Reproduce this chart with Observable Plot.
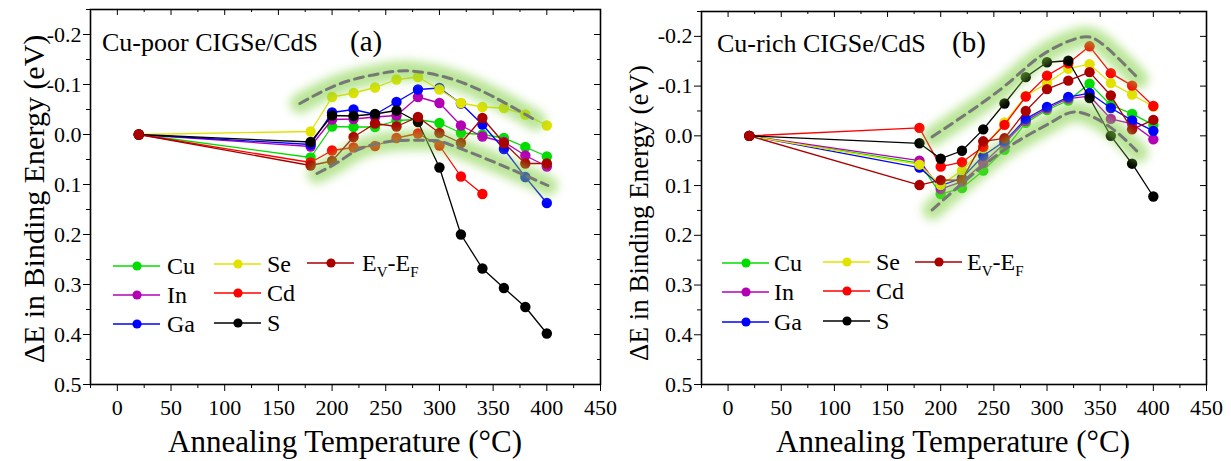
<!DOCTYPE html>
<html><head><meta charset="utf-8">
<script src="https://cdn.jsdelivr.net/npm/d3@7"></script>
<script src="https://cdn.jsdelivr.net/npm/@observablehq/plot@0.6"></script>
<style>
body{margin:0;background:#fff;}
#wrap{position:relative;width:1231px;height:461px;overflow:hidden;}
#wrap > svg{position:absolute;top:0;}
</style></head><body><div id="wrap"></div>
<script>
// ---------- data ----------
const temps = [20,180,200,220,240,260,280,300,320,340,360,380,400];
const seriesNames = ["Cu","In","Ga","Se","Cd","S","EvEf"];
const seriesColors = ["#00dd00","#b400b4","#0000ff","#e2e200","#ff0000","#000000","#aa0000"];

// Panel (a) Cu-poor
const aCu   = [0,0.046,-0.016,-0.015,-0.015,-0.028,-0.030,-0.023,-0.003,0.000,0.007,0.025,0.044];
const aIn   = [0,0.024,-0.030,-0.031,-0.035,-0.038,-0.075,-0.063,-0.018,0.004,0.015,0.042,0.064];
const aGa   = [0,0.020,-0.044,-0.050,-0.040,-0.065,-0.090,-0.093,-0.062,-0.020,0.029,0.085,0.137];
const aSe   = [0,-0.006,-0.075,-0.083,-0.094,-0.110,-0.115,-0.090,-0.063,-0.055,-0.053,-0.040,-0.018];
const aCd   = [0,0.056,0.032,0.026,0.023,0.007,-0.002,0.022,0.084,0.119,null,null,null];
const aS    = [0,0.015,-0.038,-0.037,-0.041,-0.048,-0.025,0.066,0.200,0.268,0.307,0.345,0.398];
const aEvEf = [0,0.062,0.053,0.005,-0.022,-0.016,-0.035,-0.003,0.017,-0.033,0.017,0.058,0.058];

// Panel (b) Cu-rich
const bCu   = [0,0.055,0.117,0.105,0.070,0.028,-0.026,-0.052,-0.071,-0.105,-0.062,-0.044,-0.022];
const bIn   = [0,0.050,0.107,0.092,0.055,0.015,-0.030,-0.055,-0.075,-0.080,-0.034,-0.024,0.007];
const bGa   = [0,0.064,0.100,0.085,0.040,0.011,-0.034,-0.058,-0.078,-0.086,-0.056,-0.031,-0.010];
const bSe   = [0,0.058,0.099,0.070,0.025,-0.027,-0.080,-0.106,-0.135,-0.144,-0.106,-0.083,-0.059];
const bCd   = [0,-0.016,0.062,0.053,0.022,-0.022,-0.079,-0.121,-0.146,-0.180,-0.126,-0.101,-0.060];
const bS    = [0,0.015,0.046,0.030,-0.013,-0.065,-0.118,-0.148,-0.151,-0.076,0.000,0.056,0.122];
const bEvEf = [0,0.099,0.089,0.089,0.011,0.005,-0.050,-0.094,-0.111,-0.128,-0.081,-0.013,-0.032];

// guide curves (dashed trend bands)
const aUpperT = [170,208,245,273,310,348,390];
const aUpperV = [-0.062,-0.102,-0.122,-0.127,-0.112,-0.078,-0.028];
const aLowerT = [186,208,229,264,292,307,354,401];
const aLowerV = [0.078,0.052,0.026,0.012,0.012,0.018,0.058,0.102];
const bUpperT = [192,256,293,328,350,375,386];
const bUpperV = [0.002,-0.093,-0.159,-0.196,-0.188,-0.139,-0.115];
const bLowerT = [192,256,303,328,359,386];
const bLowerV = [0.149,0.034,-0.026,-0.048,-0.018,0.034];

// axis ticks
const xMajor = [0,50,100,150,200,250,300,350,400,450];
const xMinor = [-25,25,75,125,175,225,275,325,375,425];
const yMajor = [-0.2,-0.1,0,0.1,0.2,0.3,0.4,0.5];
const yMinor = [-0.25,-0.15,-0.05,0.05,0.15,0.25,0.35,0.45];

const FONT = "'Liberation Serif','Times New Roman',serif";

function makePanel({series, guides, width, mL, mR, mT, mB, id}) {
  const H = 461;
  const frameW = width - mL - mR, frameH = H - mT - mB;
  const marks = [];
  seriesNames.forEach((s, i) => {
    const rows = [];
    series[i].forEach((v, j) => { if (v != null) rows.push({series: s, t: temps[j], v}); });
    marks.push(Plot.line(rows, {x: "t", y: "v", stroke: "series", strokeWidth: 1.3}));
    marks.push(Plot.dot(rows, {x: "t", y: "v", fill: "series", r: 5.2}));
  });
  const g = [];
  guides.forEach((gd, k) => gd.t.forEach((t, j) => g.push({g: k, t, v: gd.v[j]})));
  marks.push(Plot.line(g, {x: "t", y: "v", z: "g", curve: "natural", stroke: "#7fcf3f", strokeWidth: 20, strokeOpacity: 0.55, strokeLinecap: "round"}));
  marks.push(Plot.line(g, {x: "t", y: "v", z: "g", curve: "natural", stroke: "#777777", strokeWidth: 3, strokeDasharray: "9,6"}));
  // axes
  marks.push(Plot.axisX({ticks: xMajor, anchor: "bottom", tickSize: 7, tickPadding: 8, tickFormat: d => String(d), fontSize: 22, label: null}));
  marks.push(Plot.axisX({ticks: xMinor, anchor: "bottom", tickSize: 4, tickFormat: () => "", label: null}));
  marks.push(Plot.axisY({ticks: yMajor, anchor: "left", tickSize: 7, tickPadding: 2, tickFormat: d => d.toFixed(1), fontSize: 22, label: null}));
  marks.push(Plot.axisY({ticks: yMinor, anchor: "left", tickSize: 4, tickFormat: () => "", label: null}));
  // inward ticks on top / right
  marks.push(Plot.tickX(xMajor, {x: d => d, insetBottom: frameH - 6, stroke: "#000"}));
  marks.push(Plot.tickX(xMinor, {x: d => d, insetBottom: frameH - 3, stroke: "#000"}));
  marks.push(Plot.tickY(yMajor, {y: d => d, insetLeft: frameW - 6, stroke: "#000"}));
  marks.push(Plot.tickY(yMinor, {y: d => d, insetLeft: frameW - 3, stroke: "#000"}));
  marks.push(Plot.frame({stroke: "#000", strokeWidth: 1.6}));

  const svg = Plot.plot({
    width, height: H, marginLeft: mL, marginRight: mR, marginTop: mT, marginBottom: mB,
    x: {domain: [-25, 450]},
    y: {domain: [-0.25, 0.5], reverse: true},
    color: {domain: seriesNames, range: seriesColors},
    style: {fontFamily: FONT, fontSize: "22px", color: "#000", background: "transparent", overflow: "visible"},
    marks
  });
  const ns = "http://www.w3.org/2000/svg";
  const defs = document.createElementNS(ns, "defs");
  defs.innerHTML = `<filter id="glow${id}" filterUnits="userSpaceOnUse" x="0" y="0" width="${width}" height="${H}"><feGaussianBlur stdDeviation="5"/></filter>`;
  svg.insertBefore(defs, svg.firstChild);
  svg.querySelectorAll('g[stroke-width="20"]').forEach(el => el.setAttribute("filter", `url(#glow${id})`));
  return svg;
}

const wrap = document.getElementById("wrap");
const svgA = makePanel({
  series: [aCu, aIn, aGa, aSe, aCd, aS, aEvEf],
  guides: [{t: aUpperT, v: aUpperV}, {t: aLowerT, v: aLowerV}],
  width: 615, mL: 90, mR: 15, mT: 9, mB: 77, id: "a"
});
svgA.style.left = "0px";
wrap.appendChild(svgA);
const svgB = makePanel({
  series: [bCu, bIn, bGa, bSe, bCd, bS, bEvEf],
  guides: [{t: bUpperT, v: bUpperV}, {t: bLowerT, v: bLowerV}],
  width: 616, mL: 86, mR: 25, mT: 11, mB: 77, id: "b"
});
svgB.style.left = "615px";
wrap.appendChild(svgB);

// ---------- overlay: titles, axis titles, legends ----------
function legendHTML(labelXs, lineX0s, ys, col3) {
  let s = "";
  const entries = [[0,0],[1,0],[2,0],[0,1],[1,1],[2,1]];
  const labels = ["Cu","In","Ga","Se","Cd","S"];
  labels.forEach((lab, i) => {
    const [r, c] = entries[i];
    const x0 = lineX0s[c], y = ys[c][r];
    const col = seriesColors[i];
    s += `<line x1="${x0}" x2="${x0+47}" y1="${y}" y2="${y}" stroke="${col}" stroke-width="1.6"/>`;
    s += `<circle cx="${x0+24}" cy="${y}" r="4.6" fill="${col}"/>`;
    s += `<text x="${labelXs[c]}" y="${y+8}" font-size="24">${lab}</text>`;
  });
  const [x0, y, lx] = col3;
  s += `<line x1="${x0}" x2="${x0+47}" y1="${y}" y2="${y}" stroke="${seriesColors[6]}" stroke-width="1.6"/>`;
  s += `<circle cx="${x0+24}" cy="${y}" r="4.6" fill="${seriesColors[6]}"/>`;
  s += `<text x="${lx}" y="${y+8}" font-size="24">E<tspan font-size="15" dy="6">V</tspan><tspan dy="-6">-E</tspan><tspan font-size="15" dy="6">F</tspan></text>`;
  return s;
}

const overlay = `<svg xmlns="http://www.w3.org/2000/svg" width="1231" height="461" style="left:0;font-family:${FONT};fill:#000">
  <text x="102" y="51" font-size="26">Cu-poor CIGSe/CdS</text>
  <text x="350" y="51" font-size="29">(a)</text>
  <text x="717" y="52" font-size="26">Cu-rich CIGSe/CdS</text>
  <text x="952" y="52" font-size="29">(b)</text>
  <text transform="translate(44,199) rotate(-90)" text-anchor="middle" font-size="30">ΔE in Binding Energy (eV)</text>
  <text transform="translate(648,213) rotate(-90)" text-anchor="middle" font-size="27">ΔE in Binding Energy (eV)</text>
  <text x="345" y="452" text-anchor="middle" font-size="31">Annealing Temperature (°C)</text>
  <text x="953" y="452" text-anchor="middle" font-size="31">Annealing Temperature (°C)</text>
  ${legendHTML([167, 267], [113, 214], [[266, 295, 324],[264, 293, 323]], [307, 263, 362])}
  ${legendHTML([774, 876], [722, 823], [[263, 292, 322],[262, 291, 321]], [915, 262, 967])}
</svg>`;
wrap.insertAdjacentHTML("beforeend", overlay);
</script>
</body></html>
